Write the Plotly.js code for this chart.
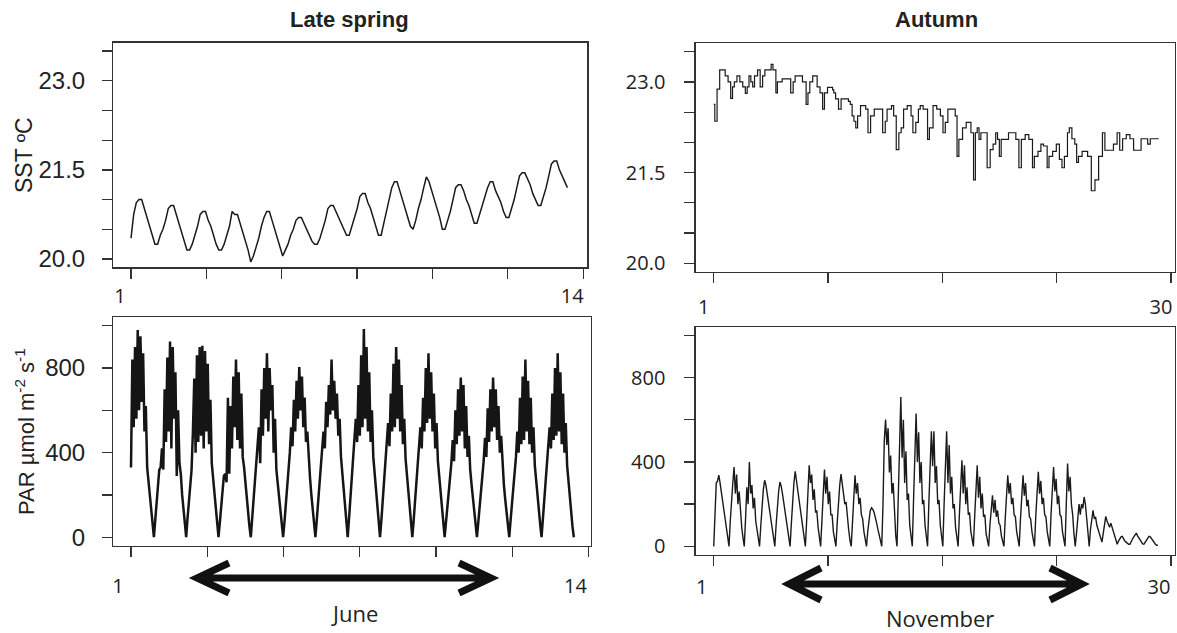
<!DOCTYPE html>
<html><head><meta charset="utf-8">
<script src="https://cdn.plot.ly/plotly-3.0.1.min.js"></script>
<style>html,body{margin:0;padding:0;background:#fff}#chart{width:1177px;height:633px}</style>
</head><body><div id="chart"></div>
<script>
// ---------------- DATA ----------------
// Late spring SST (deg C), 2-hourly samples starting at day 1
const springSST = [
20.35,20.75,20.95,21.0,21.0,20.85,20.7,20.55,20.4,20.25,20.25,20.4,
20.5,20.65,20.85,20.9,20.9,20.75,20.6,20.45,20.3,20.15,20.15,20.25,
20.4,20.55,20.75,20.8,20.8,20.65,20.55,20.4,20.25,20.15,20.15,20.25,
20.4,20.55,20.8,20.75,20.75,20.6,20.45,20.3,20.15,19.95,20.05,20.2,
20.35,20.55,20.7,20.8,20.8,20.65,20.5,20.35,20.2,20.05,20.15,20.25,
20.4,20.5,20.65,20.7,20.7,20.6,20.5,20.4,20.3,20.25,20.25,20.35,
20.5,20.65,20.85,20.9,20.9,20.8,20.7,20.6,20.5,20.4,20.4,20.55,
20.7,20.85,21.05,21.1,21.1,20.95,20.85,20.7,20.55,20.4,20.4,20.6,
20.75,21.0,21.2,21.3,21.3,21.15,21.0,20.85,20.7,20.55,20.5,20.65,
20.85,21.0,21.2,21.38,21.3,21.15,21.0,20.85,20.7,20.5,20.5,20.65,
20.8,21.0,21.2,21.25,21.25,21.15,21.0,20.9,20.75,20.6,20.6,20.75,
20.9,21.05,21.2,21.3,21.3,21.15,21.05,20.95,20.8,20.7,20.7,20.85,
21.0,21.2,21.4,21.45,21.45,21.35,21.25,21.1,21.0,20.9,20.9,21.05,
21.2,21.4,21.6,21.65,21.65,21.5,21.4,21.3,21.2
];
const springSSTStart = 1, springSSTStep = 1/12;

// Late spring PAR (umol m-2 s-1), hourly samples starting at day 1
const springPAR = [
330,840,520,900,560,980,600,950,640,870,500,620,330,260,190,120,50,
0,80,160,240,320,330,420,320,700,450,850,500,925,420,900,560,780,290,600,350,300,200,130,60,
0,90,170,250,320,500,750,400,860,450,900,480,905,420,880,500,820,440,650,350,280,200,120,60,
0,70,150,230,290,300,260,660,300,620,420,760,520,840,460,780,420,680,380,330,250,180,110,50,
0,80,160,240,320,400,520,350,700,480,800,560,870,500,800,600,720,400,560,320,250,180,110,50,
0,70,150,230,310,400,520,430,650,500,740,560,805,600,760,520,660,450,500,360,280,200,120,60,
0,80,160,240,320,400,500,420,640,520,720,580,840,600,740,560,680,480,560,380,300,210,130,60,
0,90,180,270,350,440,560,450,720,480,860,520,985,560,900,500,780,450,600,380,300,220,140,70,
0,80,170,250,330,420,540,430,680,500,820,520,900,560,840,500,720,440,560,370,290,210,130,60,
0,80,160,240,320,400,520,420,660,500,800,540,870,560,780,500,680,420,540,360,280,200,120,60,
0,70,140,210,280,350,460,360,600,440,700,480,755,500,720,420,620,380,480,320,250,180,110,50,
0,70,140,210,280,360,470,380,610,450,700,500,755,520,700,460,620,400,480,320,250,180,110,50,
0,80,150,230,310,380,500,400,660,440,760,460,840,500,740,440,660,400,520,340,270,190,120,60,
0,80,160,240,320,400,520,420,680,460,800,480,870,500,780,440,680,400,540,340,260,190,110,50,
0
];
const springPARStart = 1, springPARStep = 1/24;

// Autumn SST: day and value read at each vertex
const autumnSSTDay = [
1.00,1.07,1.22,1.39,1.63,1.75,1.94,2.11,2.23,2.35,2.52,2.71,2.90,3.07,3.19,3.31,3.43,3.55,3.67,3.87,
4.04,4.20,4.35,4.69,4.76,4.88,5.07,5.17,5.48,5.96,6.04,6.20,6.33,6.69,6.81,7.05,7.17,7.29,7.48,7.77,
7.96,8.13,8.25,8.45,8.78,8.86,8.98,9.17,9.34,9.58,9.82,9.94,10.06,10.18,10.30,10.42,10.61,10.95,11.10,11.27,
11.51,11.87,12.06,12.23,12.35,12.64,12.78,12.95,13.12,13.27,13.43,13.67,13.92,14.04,14.23,14.40,14.52,14.71,15.00,15.12,
15.36,15.60,15.84,16.01,16.16,16.33,16.69,16.81,16.93,17.05,17.29,17.53,17.84,18.01,18.13,18.25,18.37,18.49,18.73,18.90,
19.10,19.29,19.46,19.58,19.70,19.82,20.30,20.59,20.78,20.98,21.14,21.39,21.63,21.87,21.99,22.23,22.42,22.59,22.83,22.95,
23.19,23.43,23.63,23.80,23.96,24.16,24.28,24.45,24.64,24.76,24.88,25.12,25.48,25.60,25.72,25.96,26.20,26.45,26.61,26.93,
27.17,27.41,27.58,27.77,28.01,28.25,28.49,28.73,28.98,29.41,29.58,30.13
];
const autumnSST = [
22.63,22.35,22.88,23.20,23.20,23.10,23.00,22.73,22.92,23.00,23.10,23.00,22.92,22.81,22.92,23.10,23.00,22.92,23.10,23.20,
22.92,23.10,23.20,23.20,23.29,23.20,22.82,23.00,23.05,23.05,22.82,23.00,23.10,23.10,23.00,22.63,22.82,23.00,23.10,22.92,
22.82,22.55,22.82,22.91,22.87,22.82,22.72,22.55,22.72,22.72,22.68,22.63,22.44,22.35,22.24,22.44,22.61,22.55,22.16,22.44,
22.55,22.55,22.16,22.35,22.55,22.61,22.44,21.88,22.16,22.24,22.55,22.61,22.44,22.16,22.33,22.55,22.61,22.55,22.05,22.24,
22.61,22.55,22.44,22.16,22.33,22.55,22.55,22.44,21.77,22.05,22.24,22.33,22.16,21.38,22.16,22.24,22.05,22.16,22.16,21.58,
21.88,21.97,22.16,22.05,21.77,22.05,22.16,22.16,22.05,21.58,22.05,22.13,22.05,21.58,21.77,21.85,21.97,21.94,21.58,21.77,
21.85,21.97,21.72,21.58,21.77,22.16,22.24,22.06,21.97,21.67,21.77,21.85,21.77,21.77,21.20,21.38,21.77,22.16,21.87,21.87,
21.97,22.16,21.87,22.06,22.13,22.06,21.87,21.87,22.06,21.97,22.06,22.06
];

// Autumn PAR, 2-hourly samples starting at day 1
const autumnPAR = [
0,200,300,310,337,300,260,220,180,130,80,40,
0,120,240,300,376,250,340,200,260,150,90,40,
0,130,280,200,400,250,290,180,230,120,80,30,
0,100,190,270,313,290,250,210,170,120,70,30,
0,100,190,260,305,285,250,210,170,120,70,30,
0,110,220,300,356,310,260,220,180,130,80,30,
0,120,250,384,300,340,220,270,160,170,90,30,
0,120,230,364,250,330,200,260,150,150,70,30,
0,110,220,290,342,300,250,200,210,130,80,30,
0,110,210,337,250,300,200,230,150,130,70,30,
0,70,130,170,183,175,160,140,110,80,50,20,
0,200,500,601,480,560,350,430,250,300,150,50,
0,250,460,708,420,600,300,450,220,250,100,40,
0,220,450,629,400,540,300,400,200,220,100,40,
0,200,400,545,380,545,300,380,200,220,100,40,
0,200,380,545,300,480,250,330,180,200,90,30,
0,150,300,408,250,384,200,280,150,160,70,30,
0,140,280,384,230,330,180,250,140,150,60,30,
0,100,180,242,160,220,140,170,110,100,50,20,
0,130,250,337,250,300,200,230,150,140,70,30,
0,130,250,337,240,300,190,220,140,130,70,30,
0,140,260,353,250,310,200,230,150,140,70,30,
0,150,280,376,260,320,200,240,150,140,70,30,
0,200,392,260,330,200,150,60,0,60,130,200,
150,200,180,234,200,130,60,0,80,140,171,130,
140,100,80,60,40,20,60,110,142,120,100,90,
110,90,70,50,20,10,25,35,45,47,35,25,
20,15,10,10,25,35,45,55,63,50,40,30,
20,12,10,20,30,40,47,45,35,25,15,10,
5,5
];
const autumnPARStart = 1, autumnPARStep = 1/12;

// Tick values / labels
const springTickVals = [1, 3.36, 5.72, 8.08, 10.44, 12.8, 15.16];
const springTickText = ["1","","","","","","14"];
const autumnTickVals = [1, 8.49, 15.97, 23.46, 30.94];
const autumnTickText = ["1","","","","30"];
const sstTickVals = [20, 20.5, 21, 21.5, 22, 22.5, 23, 23.5];
const sstTickText = ["20.0","","","21.5","","","23.0",""];
const parTickVals = [0, 200, 400, 600, 800, 1000];
const parTickText = ["0","","400","","800",""];

// ---------------- LAYOUT ----------------
const W = 1177, H = 633;
const px = v => v / W, py = v => 1 - v / H;
const seq = (n, s, d) => Array.from({length: n}, (_, i) => s + i * d);

const traces = [
  {x: seq(springSST.length, springSSTStart, springSSTStep), y: springSST, xaxis: 'x', yaxis: 'y', mode: 'lines',
   line: {color: '#1a1a1a', width: 1.5}},
  {x: seq(springPAR.length, springPARStart, springPARStep), y: springPAR, xaxis: 'x2', yaxis: 'y2', mode: 'lines',
   line: {color: '#151515', width: 2.5}},
  {x: autumnSSTDay, y: autumnSST, xaxis: 'x3', yaxis: 'y3', mode: 'lines',
   line: {color: '#1a1a1a', width: 1.2, shape: 'hv'}},
  {x: seq(autumnPAR.length, autumnPARStart, autumnPARStep), y: autumnPAR, xaxis: 'x4', yaxis: 'y4', mode: 'lines',
   line: {color: '#1a1a1a', width: 1.4}}
];

const base = {showline: true, mirror: true, linecolor: '#333', linewidth: 1.3, ticks: 'outside', ticklen: 10,
  tickcolor: '#333', tickwidth: 1.3, showgrid: false, zeroline: false, fixedrange: true};
const arial = s => ({family: 'Liberation Sans, Arial, sans-serif', size: s, color: '#222'});
const open = s => ({family: 'Open Sans, sans-serif', size: s, color: '#222'});

const layout = {
  width: W, height: H, margin: {l: 0, r: 0, t: 0, b: 0}, showlegend: false,
  paper_bgcolor: '#fff', plot_bgcolor: '#fff',
  xaxis: Object.assign({}, base, {domain: [px(113.3), px(587.3)], range: [0.445, 15.29], anchor: 'y',
    tickvals: springTickVals, ticktext: springTickText, tickfont: open(20), ticklabelshift: -11, ticklabelstandoff: 0}),
  yaxis: Object.assign({}, base, {domain: [py(267.3), py(42.7)], range: [19.86, 23.64], anchor: 'x',
    tickvals: sstTickVals, ticktext: sstTickText, tickfont: arial(24), ticklabelstandoff: 12}),
  xaxis2: Object.assign({}, base, {domain: [px(113.3), px(590.7)], range: [0.452, 15.23], anchor: 'y2',
    tickvals: springTickVals, ticktext: springTickText, tickfont: open(20), ticklabelshift: -13, ticklabelstandoff: 12}),
  yaxis2: Object.assign({}, base, {domain: [py(545.7), py(317.3)], range: [-40, 1040], anchor: 'x2',
    tickvals: parTickVals, ticktext: parTickText, tickfont: arial(24), ticklabelstandoff: 12}),
  xaxis3: Object.assign({}, base, {domain: [px(695.7), px(1175)], range: [-0.18, 31.2], anchor: 'y3',
    tickvals: autumnTickVals, ticktext: autumnTickText, tickfont: open(20), ticklabelshift: -10, ticklabelstandoff: 7}),
  yaxis3: Object.assign({}, base, {domain: [py(271.7), py(43.3)], range: [19.86, 23.64], anchor: 'x3',
    tickvals: sstTickVals, ticktext: sstTickText, tickfont: open(20), ticklabelstandoff: 15}),
  xaxis4: Object.assign({}, base, {domain: [px(695.7), px(1175)], range: [-0.18, 31.2], anchor: 'y4',
    tickvals: autumnTickVals, ticktext: autumnTickText, tickfont: open(20), ticklabelshift: -12, ticklabelstandoff: 4}),
  yaxis4: Object.assign({}, base, {domain: [py(555), py(327.3)], range: [-41, 1038], anchor: 'x4',
    tickvals: parTickVals, ticktext: parTickText, tickfont: open(20), ticklabelstandoff: 15}),
  annotations: [
    {text: '<b>Late spring</b>', x: px(350), y: py(20), font: arial(22)},
    {text: '<b>Autumn</b>', x: px(936), y: py(20), font: arial(22)},
    {text: 'SST ºC', x: px(24), y: py(155), textangle: -90, font: arial(23)},
    {text: 'PAR µmol m<sup>-2</sup> s<sup>-1</sup>', x: px(25), y: py(432), textangle: -90, font: arial(22)},
    {text: 'June', x: px(354), y: py(613), font: open(22)},
    {text: 'November', x: px(940), y: py(618), font: open(22)}
  ].map(a => Object.assign({xref: 'paper', yref: 'paper', showarrow: false, xanchor: 'center', yanchor: 'middle'}, a)),
  shapes: []
};

// double-headed arrows (pixel geometry -> paper)
function arrowPath(x1, x2, y, hx, hy) {
  const P = (x, yy) => px(x).toFixed(5) + ',' + py(yy).toFixed(5);
  return 'M' + P(x1, y) + ' L' + P(x2, y) +
         ' M' + P(x1 + hx, y - hy) + ' L' + P(x1 + 1, y) + ' L' + P(x1 + hx, y + hy) +
         ' M' + P(x2 - hx, y - hy) + ' L' + P(x2 - 1, y) + ' L' + P(x2 - hx, y + hy);
}
layout.shapes.push({type: 'path', xref: 'paper', yref: 'paper', path: arrowPath(196, 492, 578, 33, 15), line: {color: '#111', width: 7}});
layout.shapes.push({type: 'path', xref: 'paper', yref: 'paper', path: arrowPath(788, 1083, 584, 33, 16), line: {color: '#111', width: 7}});

Plotly.newPlot('chart', traces, layout, {staticPlot: true, displayModeBar: false});
</script></body></html>
